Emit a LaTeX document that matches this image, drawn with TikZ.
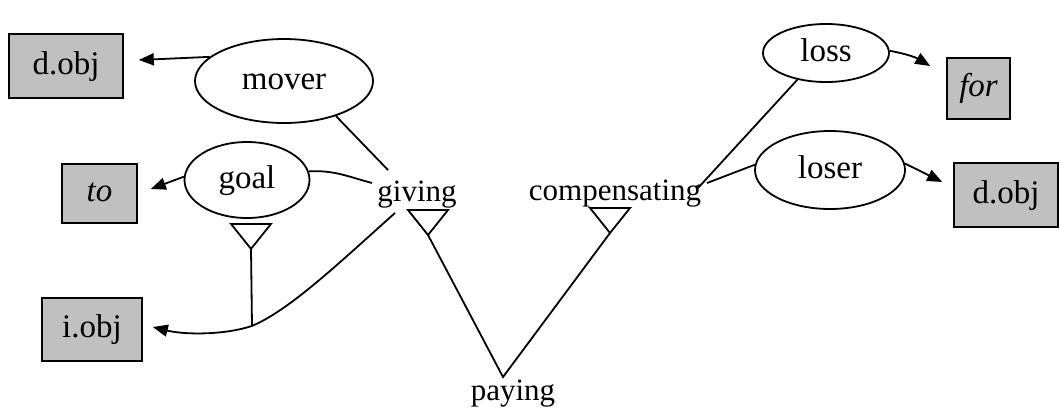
\documentclass[tikz,border=0pt]{standalone}
\usepackage{fontspec}
\setmainfont{Liberation Serif}
\usetikzlibrary{shapes.geometric,arrows.meta}
\definecolor{boxgray}{RGB}{192,192,192}
\begin{document}
\begin{tikzpicture}[x=1pt,y=-1pt,
  every node/.style={font=\fontsize{31}{36}\selectfont},
  labeltext/.style={font=\fontsize{33}{38}\selectfont, text height=22pt, text depth=6pt},
  role/.style={draw, ellipse, inner sep=0pt, line width=1.8pt, labeltext},
  slot/.style={draw, fill=boxgray, rectangle, inner sep=0pt, line width=1.6pt, labeltext},
  frame/.style={inner sep=0pt},
  link/.style={line width=1.8pt},
  arr/.style={link, -{Triangle[length=15pt,width=12pt]}},
  isa/.pic={\draw[link, line join=miter] (0,0) -- (-20,-25) -- (20,-25) -- cycle;}
]
\useasboundingbox (0,0) rectangle (1059,408);

% frames
\node[frame, anchor=base] (giving) at (417,201) {giving};
\node[frame, anchor=base] (comp) at (615,200) {compensating};
\node[frame, anchor=base] (paying) at (513,400) {paying};

% roles
\node[role, minimum width=178pt, minimum height=84pt] (mover) at (284,81) {mover};
\node[role, minimum width=125pt, minimum height=76pt] (goal) at (247,180) {goal};
\node[role, minimum width=126pt, minimum height=58pt] (loss) at (826,53) {loss};
\node[role, minimum width=150pt, minimum height=78pt] (loser) at (830,170) {loser};

% grammatical slots
\node[slot, minimum width=114pt, minimum height=64pt] (dobjA) at (66,66) {d.obj};
\node[slot, minimum width=75pt, minimum height=59pt] (tobox) at (99.5,193.5) {\itshape to};
\node[slot, minimum width=100pt, minimum height=63pt] (iobj) at (92,329.5) {i.obj};
\node[slot, minimum width=63pt, minimum height=61pt] (forbox) at (978.5,88.5) {\itshape for};
\node[slot, minimum width=104pt, minimum height=64pt] (dobjB) at (1006,195) {d.obj};

% inheritance markers
\coordinate (gtip) at ([shift={(11,34)}]giving.base);
\coordinate (ctip) at ([shift={(-5,33)}]comp.base);
\coordinate (otip) at ([shift={(4,30)}]goal.south);
\coordinate (ptop) at ([shift={(-10,-23)}]paying.base);
\coordinate (join) at ([shift={(1,77)}]otip);
\pic at (gtip) {isa};
\pic at (ctip) {isa};
\pic at (otip) {isa};

% giving
\draw[arr] (mover.162) -- ([shift={(15,-6)}]dobjA.east);
\draw[link] (mover.-34) -- ([shift={(-29,-31)}]giving.base);
\draw[arr] (goal.177) -- ([shift={(13,-4.5)}]tobox.east);
\draw[link] (goal.8) to[out=3, in=165] ([shift={(-45,-18)}]giving.base);
\draw[arr] ([shift={(-22,12)}]giving.base) .. controls (340,262) and (290,310) .. (join)
  .. controls (225,335) and (185,335) .. ([shift={(10,-2.5)}]iobj.east);
\draw[link] (otip) -- (join);

% paying
\draw[link] (gtip) -- (ptop) -- (ctip);

% compensating
\draw[link] (loss.223) -- ([shift={(83,-12)}]comp.base);
\draw[link] ([shift={(92,-17)}]comp.base) -- (loser.176);
\draw[arr] (loss.2) to[bend left=10] ([shift={(-16,-22.5)}]forbox.west);
\draw[arr] (loser.5) -- ([shift={(-11,-13)}]dobjB.west);
\end{tikzpicture}
\end{document}
